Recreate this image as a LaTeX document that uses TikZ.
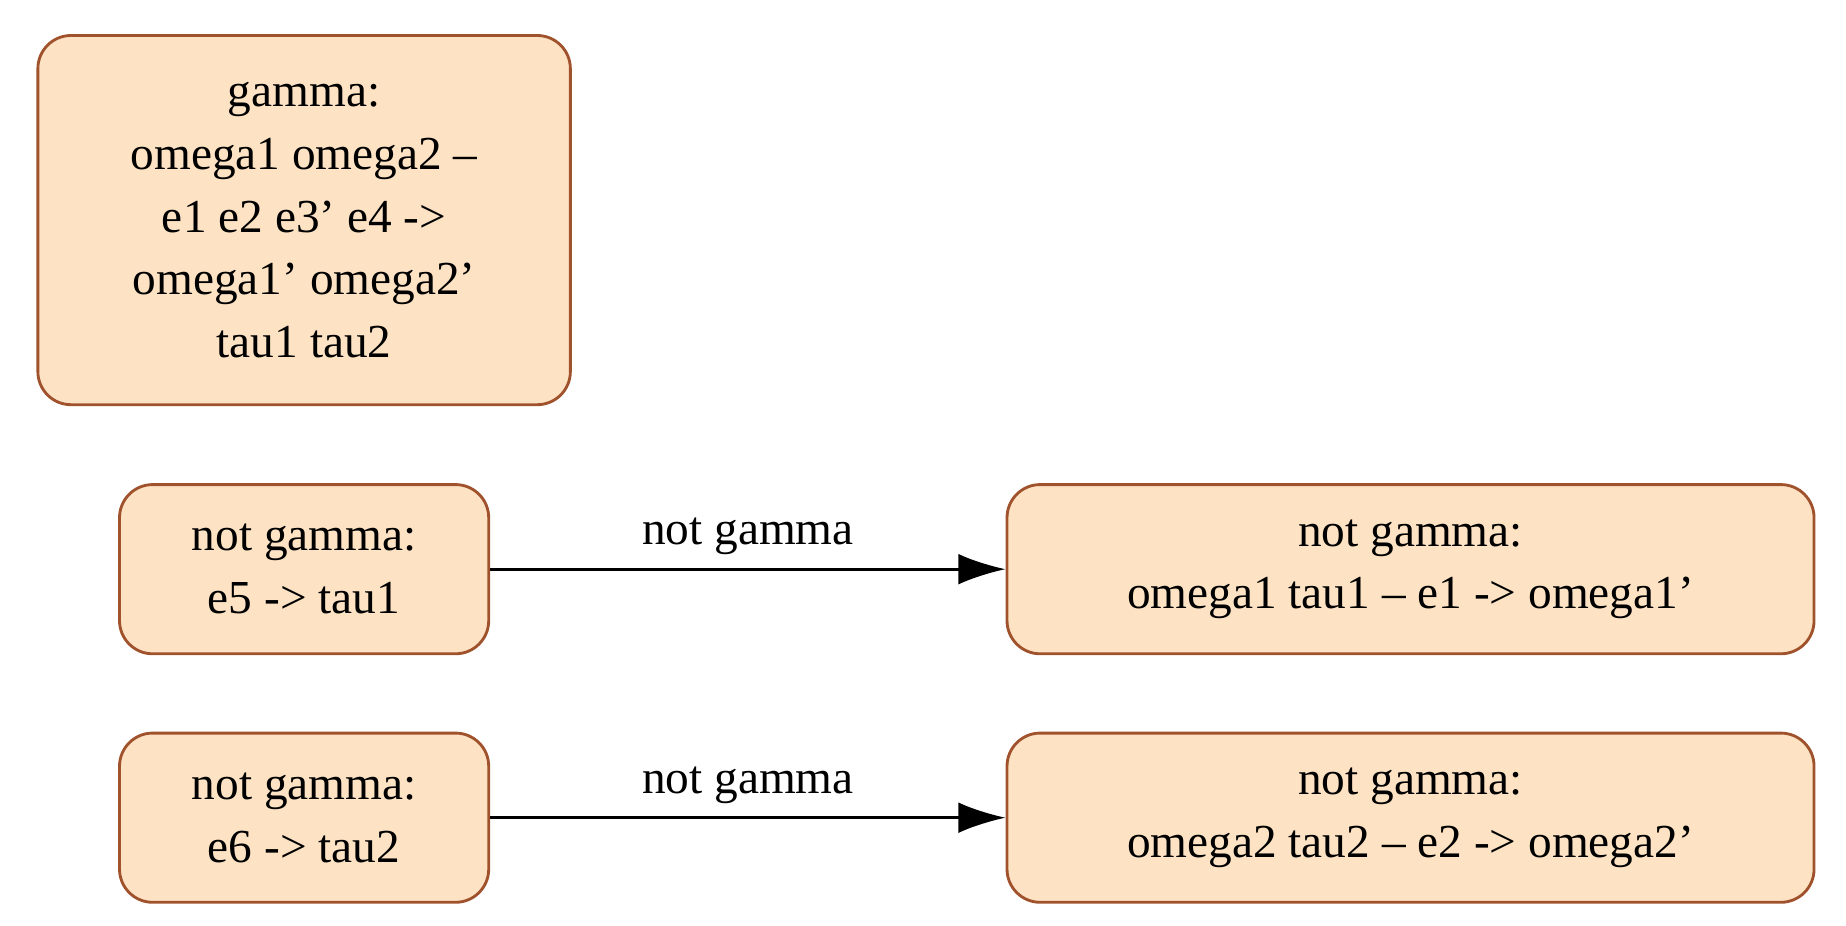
\documentclass[tikz,border=0pt]{standalone}
\usepackage{fontspec}
\setmainfont{Liberation Serif}
\usetikzlibrary{arrows.meta}
\definecolor{fillc}{HTML}{FDE3C4}
\definecolor{drawc}{HTML}{A0522D}
\begin{document}
\begin{tikzpicture}[x=0.5pt,y=-0.5pt,
  box/.style={draw=drawc,fill=fillc,line width=1.2pt,rounded corners=14pt,align=center,
    font=\fontsize{20}{26.5}\selectfont,inner sep=0pt},
  edge/.style={-{Latex[length=20pt,width=13pt]},line width=1.2pt},
  lab/.style={font=\fontsize{20}{24}\selectfont}]
\useasboundingbox (0,0) rectangle (1560,782.5);
\node[box,minimum width=225pt,minimum height=156pt] (g) at (257,186) {gamma:\\omega1 omega2 --\\e1 e2 e3' e4 ->\\omega1' omega2'\\tau1 tau2};
\node[box,minimum width=156pt,minimum height=71.5pt] (a) at (257,481) {not gamma:\\e5 -> tau1};
\node[box,minimum width=341pt,minimum height=71.5pt] (b) at (1192,481) {not gamma:\\omega1 tau1 -- e1 -> omega1'};
\node[box,minimum width=156pt,minimum height=71.5pt] (c) at (257,691) {not gamma:\\e6 -> tau2};
\node[box,minimum width=341pt,minimum height=71.5pt] (d) at (1192,691) {not gamma:\\omega2 tau2 -- e2 -> omega2'};
\draw[edge] (a) -- node[lab,above=2pt] {not gamma} (b);
\draw[edge] (c) -- node[lab,above=2pt] {not gamma} (d);
\end{tikzpicture}
\end{document}
